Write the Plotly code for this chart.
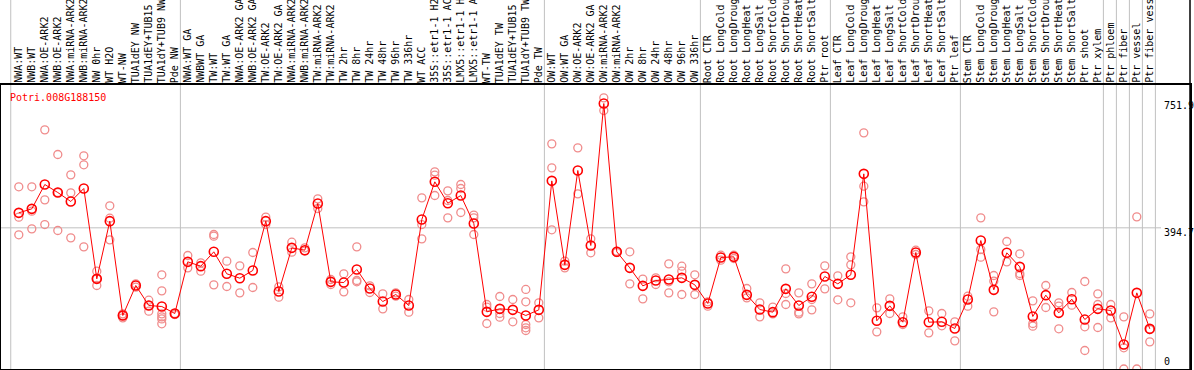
import plotly.graph_objects as go

categories = [
    "NWA:WT", "NWB:WT", "NWA:OE-ARK2", "NWB:OE-ARK2", "NWA:miRNA-ARK2", "NWB:miRNA-ARK2",
    "NW 0hr", "WT H2O", "WT-NW", "TUA1dEY NW", "TUA1dEY+TUB15", "TUA1dY+TUB9 NW", "Pde NW",
    "NWA:WT GA", "NWBWT GA", "TW:WT", "TW:WT GA", "NWA:OE-ARK2 GA", "NWB:OE-ARK2 GA",
    "TW:OE-ARK2", "TW:OE-ARK2 GA", "NWA:miRNA-ARK2", "NWB:miRNA-ARK2", "TW:miRNA-ARK2",
    "TW:miRNA-ARK2", "TW 2hr", "TW 8hr", "TW 24hr", "TW 48hr", "TW 96hr", "TW 336hr",
    "WT ACC", "35S::etr1-1 H2", "35S::etr1-1 AC", "LMX5::etr1-1 H", "LMX5::etr1-1 A",
    "WT-TW", "TUA1dEY TW", "TUA1dEY+TUB15", "TUA1dY+TUB9 TW", "Pde TW",
    "OW:WT", "OW:WT GA", "OW:OE-ARK2", "OW:OE-ARK2 GA", "OW:miRNA-ARK2", "OW:miRNA-ARK2",
    "OW 2hr", "OW 8hr", "OW 24hr", "OW 48hr", "OW 96hr", "OW 336hr",
    "Root CTR", "Root LongCold", "Root LongDroug", "Root LongHeat", "Root LongSalt",
    "Root ShortCold", "Root ShortDrou", "Root ShortHeat", "Root ShortSalt", "Ptr root",
    "Leaf CTR", "Leaf LongCold", "Leaf LongDroug", "Leaf LongHeat", "Leaf LongSalt",
    "Leaf ShortCold", "Leaf ShortDrou", "Leaf ShortHeat", "Leaf ShortSalt", "Ptr leaf",
    "Stem CTR", "Stem LongCold", "Stem LongDroug", "Stem LongHeat", "Stem LongSalt",
    "Stem ShortCold", "Stem ShortDrou", "Stem ShortHeat", "Stem ShortSalt", "Ptr shoot",
    "Ptr xylem", "Ptr phloem", "Ptr fiber", "Ptr vessel", "Ptr fiber vess",
]

means = [
    436.6, 447.8, 515.8, 493.4, 468.3, 504.6, 252.1, 413.3, 149.6, 233.4, 177.5, 174.7, 155.2,
    299.6, 287.5, 327.6, 266.1, 253.9, 275.4, 413.3, 216.7, 338.7, 332.2, 462.7, 243.7,
    241.8, 278.2, 225.0, 188.7, 208.3, 177.5, 417.9, 523.3, 463.6, 485.0, 406.8, 159.8,
    168.2, 165.4, 149.6, 165.4,
    526.0, 291.2, 554.9, 345.3, 742.2, 327.6, 282.8, 232.5, 247.4, 250.2, 254.9, 235.3,
    183.1, 311.7, 313.6, 207.3, 166.3, 158.9, 224.1, 177.5, 201.8, 258.6,
    238.1, 263.3, 545.6, 134.7, 176.6, 130.9, 325.7, 130.9, 131.9, 113.2,
    194.3, 359.2, 221.3, 324.8, 285.6, 146.8, 206.4, 157.0, 195.2, 138.4, 168.2,
    163.5, 68.5, 212.9, 112.3,
]

replicates = [
    [509.3, 424.5, 375.1], [509.3, 441.2, 391.8], [668.6, 472.9, 403.9], [599.7, 493.4, 387.2],
    [542.8, 492.5, 366.7], [596.0, 570.8, 341.5], [273.5, 252.1, 233.4], [456.2, 421.7, 361.1],
    [154.2, 143.0, 149.6], [238.1, 228.8], [192.4, 161.7, 177.5],
    [263.3, 218.5, 154.2, 145.8, 126.3, 140.0], [155.2, 152.4],
    [317.3, 282.8], [296.8, 273.5], [376.0, 371.4, 235.3], [301.5, 230.6], [288.4, 212.9],
    [325.7, 227.9], [424.5, 403.9], [229.7, 200.8], [354.6, 326.6], [338.7, 329.4],
    [475.7, 448.7], [250.2, 236.2], [266.1, 215.7], [341.5, 247.4, 243.7], [232.5, 213.9],
    [210.1, 168.2], [212.9, 203.6], [194.3, 158.9], [478.5, 403.9, 363.9],
    [551.2, 541.8, 485.0], [498.1, 471.1, 422.6], [515.8, 504.6, 437.5],
    [430.1, 422.6, 376.0], [180.3, 172.9, 127.2], [202.7, 155.2, 145.0], [194.3, 131.9],
    [222.4, 187.8, 124.4, 115.1, 107.6], [185.0, 143.0],
    [629.5, 562.4, 389.1], [301.5, 282.8], [618.3, 489.7], [363.9, 324.8], [758.1, 722.7],
    [329.4, 325.7], [327.6, 238.1], [251.2, 196.1], [254.9, 236.2], [294.0, 243.7, 212.9],
    [287.5, 273.5, 208.3], [263.3, 208.3],
    [187.8, 175.7], [318.2, 304.3], [318.2, 308.9], [225.0, 198.9], [185.0, 145.8],
    [172.9, 154.2], [280.0, 211.1, 180.3], [212.9, 158.9, 154.2], [238.1, 194.3, 165.4],
    [288.4, 224.1],
    [260.5, 193.4], [313.6, 291.2, 185.0], [660.2, 511.1, 467.3], [171.0, 103.9],
    [196.1, 155.2], [145.8, 124.4], [332.2, 320.1], [162.6, 101.1], [155.2, 120.7],
    [131.9, 78.7],
    [203.6, 175.7], [422.6, 334.1, 312.6], [261.4, 245.6, 159.8], [356.4, 299.6],
    [322.0, 267.0, 261.4], [190.5, 127.2, 119.8], [233.4, 171.9], [185.0, 175.7, 112.3],
    [213.9, 178.5], [244.6, 117.9, 51.7], [210.1, 180.3, 116.0], [180.3, 143.0],
    [145.8, 59.2, 0.0], [425.4, 0.0], [154.2, 110.4, 75.9],
]

group_bounds = [-0.62, 12.43, 40.43, 52.43, 62.43, 72.43, 83.43, 84.43, 85.43, 86.43, 87.43]
axis_labels = ["751.9", "394.7", "0"]
axis_label_values = [751.9, 394.7, 0.0]
gene_id = "Potri.008G188150"

W, H = 1194, 370
ML, MR, MT, MB = 1, 4, 85, 1
PW, PH = W - ML - MR, H - MT - MB
STEP = 13.0
X0PX = 18.8
xmin = -(X0PX - ML) / STEP
xmax = xmin + PW / STEP
YMAX = 794.0
MONO = "DejaVu Sans Mono"

n = len(categories)
xs = list(range(n))
rep_x = [i for i, reps in enumerate(replicates) for _ in reps]
rep_y = [v for reps in replicates for v in reps]

fig = go.Figure()
fig.add_trace(go.Scatter(
    x=rep_x, y=rep_y, mode="markers",
    marker=dict(symbol="circle-open", size=8, color="#F08C8C", line=dict(width=1.3)),
    hoverinfo="skip", showlegend=False,
))
fig.add_trace(go.Scatter(
    x=xs, y=means, mode="lines+markers",
    line=dict(color="#FF0000", width=1),
    marker=dict(symbol="circle-open", size=9, color="#FF0000", line=dict(width=1.6)),
    text=categories, showlegend=False,
))

top_paper = 1 + MT / PH
shapes = []
for b in group_bounds:
    shapes.append(dict(type="line", xref="x", yref="paper", x0=b, x1=b, y0=0, y1=top_paper,
                       line=dict(color="#C0C0C0", width=1), layer="below"))
shapes.append(dict(type="line", xref="paper", yref="y", x0=0, x1=(1161 - ML) / PW,
                   y0=394.7, y1=394.7, line=dict(color="#C0C0C0", width=1), layer="below"))
shapes.append(dict(type="line", xref="paper", yref="paper", x0=1, x1=1, y0=0, y1=top_paper,
                   line=dict(color="black", width=1.5)))

annotations = []
for i, c in enumerate(categories):
    annotations.append(dict(
        x=i, xref="x", y=1 + 1.0 / PH, yref="paper", text=c, showarrow=False,
        textangle=-90, xanchor="center", yanchor="bottom",
        font=dict(family=MONO, size=10, color="black"), borderpad=0,
    ))
for lab, val in zip(axis_labels, axis_label_values):
    py = MT + PH * (1 - val / YMAX)
    py_center = min(py + 5, H - MB - 8)
    annotations.append(dict(
        x=(1163 - ML) / PW, xref="paper", y=(H - MB - py_center) / PH, yref="paper",
        text=lab, showarrow=False, xanchor="left", yanchor="middle",
        font=dict(family=MONO, size=10, color="black"), borderpad=0,
    ))
annotations.append(dict(
    x=(9 - ML) / PW, xref="paper", y=(H - MB - 97.3) / PH, yref="paper",
    text=gene_id, showarrow=False, xanchor="left", yanchor="middle",
    font=dict(family=MONO, size=10, color="#FF0000"), borderpad=0,
))

fig.update_layout(
    width=W, height=H,
    margin=dict(l=ML, r=MR, t=MT, b=MB, pad=0, autoexpand=False),
    paper_bgcolor="white", plot_bgcolor="white",
    xaxis=dict(range=[xmin, xmax], showgrid=False, zeroline=False, showticklabels=False,
               ticks="", showline=True, mirror=True, linecolor="black", linewidth=1.5),
    yaxis=dict(range=[0, YMAX], showgrid=False, zeroline=False, showticklabels=False,
               ticks="", showline=True, mirror=True, linecolor="black", linewidth=1.5),
    shapes=shapes, annotations=annotations,
)

fig.write_html(
    "out.html",
    config={"displayModeBar": False},
    post_script="document.body.style.margin='0';document.body.style.overflow='hidden';",
)
